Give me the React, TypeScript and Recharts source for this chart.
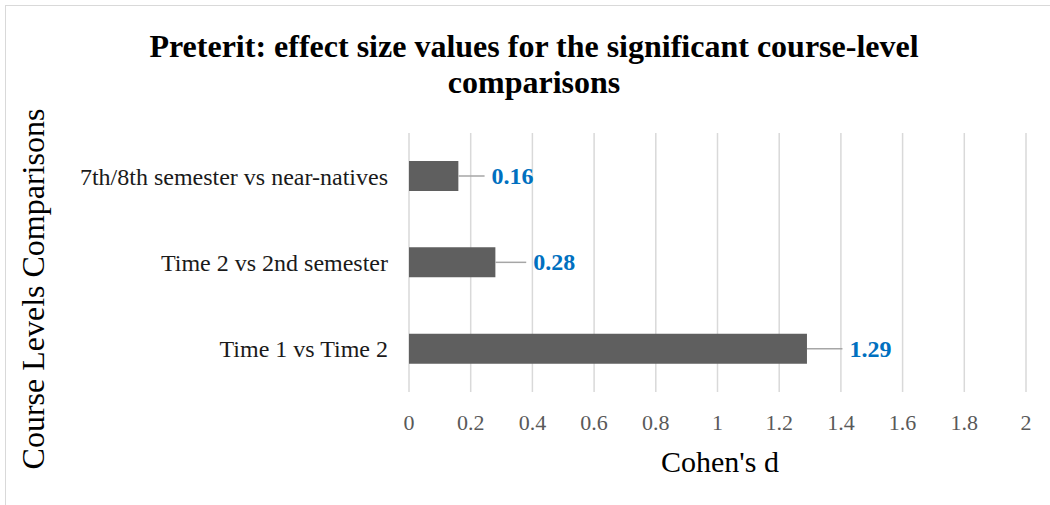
import { BarChart, Bar, XAxis, YAxis, CartesianGrid, ErrorBar } from 'recharts';

const categories = ['7th/8th semester vs near-natives', 'Time 2 vs 2nd semester', 'Time 1 vs Time 2'];
const effectSizes = [0.16, 0.28, 1.29];
const errorMargins = [0.085, 0.1, 0.115];
const xTicks = [0, 0.2, 0.4, 0.6, 0.8, 1, 1.2, 1.4, 1.6, 1.8, 2];

const font = '"Liberation Serif", "Times New Roman", serif';

const data = categories.map((name, i) => ({
  name,
  d: effectSizes[i],
  err: [0, errorMargins[i]],
}));

function ValueLabel(props: any) {
  const { x, y, width, height, value, index } = props;
  const errPx = value ? (errorMargins[index] * width) / value : 0;
  return (
    <text
      x={x + width + errPx + 7}
      y={y + height / 2}
      dominantBaseline="central"
      fill="#0070C0"
      fontSize={24}
      fontWeight="bold"
      fontFamily={font}
    >
      {value}
    </text>
  );
}

export default function App() {
  return (
    <div style={{ position: 'absolute', left: 0, top: 0, width: 1050, height: 505, fontFamily: font, background: '#fff', overflow: 'hidden' }}>
      <div style={{ position: 'absolute', left: 5, top: 5, width: 1100, height: 600, border: '1px solid #d9d9d9' }} />
      <div style={{ position: 'absolute', left: 0, top: 28, width: 1068, textAlign: 'center', fontWeight: 'bold', fontSize: 32, lineHeight: '36px', color: '#000' }}>
        Preterit: effect size values for the significant course-level
        <br />
        comparisons
      </div>
      <div style={{ position: 'absolute', left: 33, top: 289, transform: 'translate(-50%, -50%) rotate(-90deg)', whiteSpace: 'nowrap', fontSize: 32, color: '#000' }}>
        Course Levels Comparisons
      </div>
      <div style={{ position: 'absolute', left: 720, top: 462, transform: 'translate(-50%, -50%)', whiteSpace: 'nowrap', fontSize: 30, color: '#000' }}>
        Cohen's d
      </div>
      <BarChart
        width={1050}
        height={505}
        layout="vertical"
        data={data}
        margin={{ top: 133, right: 24, bottom: 0, left: 0 }}
        style={{ position: 'absolute', left: 0, top: 0 }}
      >
        <CartesianGrid horizontal={false} stroke="#d9d9d9" strokeWidth={1.5} />
        <XAxis
          type="number"
          domain={[0, 2]}
          ticks={xTicks}
          height={113}
          axisLine={false}
          tickLine={false}
          tickSize={0}
          tickMargin={22}
          tick={{ fill: '#595959', fontSize: 22, fontFamily: font }}
        />
        <YAxis
          type="category"
          dataKey="name"
          width={409}
          axisLine={false}
          tickLine={false}
          tickSize={0}
          tickMargin={21}
          tick={{ fill: '#1a1a1a', fontSize: 24, fontFamily: font }}
        />
        <Bar dataKey="d" fill="#5f5f5f" barSize={30} isAnimationActive={false} label={<ValueLabel />}>
          <ErrorBar dataKey="err" direction="x" width={0} stroke="#a6a6a6" strokeWidth={1.5} isAnimationActive={false} />
        </Bar>
      </BarChart>
    </div>
  );
}
